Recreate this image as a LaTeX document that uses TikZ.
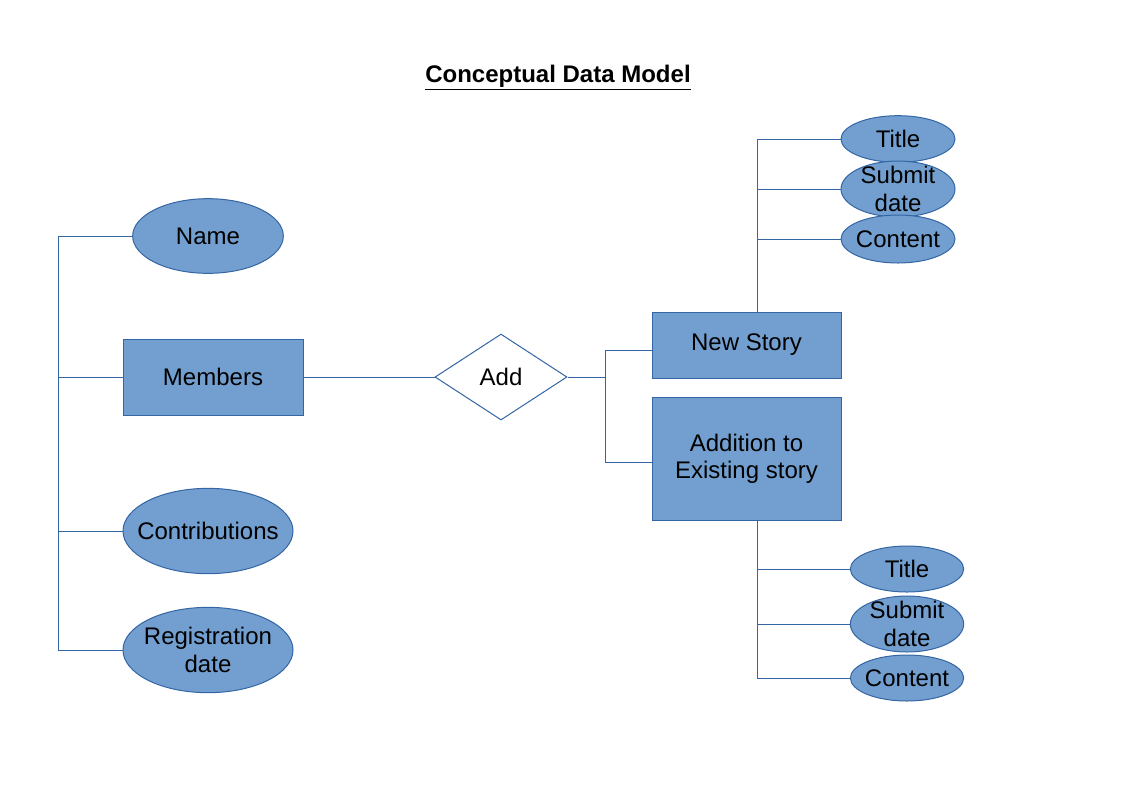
\documentclass[tikz,border=0pt]{standalone}
\usepackage{fontspec}
\setmainfont{Liberation Sans}
\usepackage{xcolor}
\usepackage{tikz}
\usetikzlibrary{shapes.geometric, positioning}
\definecolor{ermfill}{HTML}{729FCF}
\definecolor{ermline}{HTML}{3465A4}
\newcommand{\ermfont}{\fontsize{18}{20.5}\selectfont}
\tikzstyle{entity} = [rectangle, draw=ermline, fill=ermfill, line width=0.75pt, align=center, font=\ermfont, inner sep=0pt]
\tikzstyle{attrib} = [ellipse, draw=ermline, fill=ermfill, line width=0.75pt, align=center, font=\ermfont, inner xsep=-9pt, inner ysep=-6pt]
\tikzstyle{relation} = [diamond, draw=ermline, fill=white, line width=0.75pt, font=\ermfont, inner sep=0pt, aspect=1.5]
\tikzstyle{link} = [draw=ermline, line width=0.75pt]

\begin{document}
\begin{tikzpicture}[x=0.75pt, y=-0.75pt]
        \useasboundingbox (0,0) rectangle (1123,794);

        % Title
        \node (title) [font=\ermfont\bfseries] at (558,78) {\underline{Conceptual Data Model}};

        % Members and its attributes
        \node (members) [entity, minimum width=135pt, minimum height=57pt] at (213,377) {Members};
        \node (name) [attrib, minimum width=113pt, minimum height=56pt] at (208,236) {Name};
        \node (contrib) [attrib, minimum width=127.5pt, minimum height=64pt] at (208,531) {Contributions};
        \node (regdate) [attrib, minimum width=127.5pt, minimum height=64pt] at (208,650) {Registration\\date};

        % Relationship
        \node (add) [relation, minimum width=99pt, minimum height=64.5pt] at (501,377) {Add};

        % Stories
        \node (newstory) [entity, minimum width=141.75pt, minimum height=49.5pt] at (746.5,345) {New Story};
        \node (addition) [entity, minimum width=141.75pt, minimum height=92.25pt] at (746.5,458.5) {Addition to\\Existing story};

        % Attributes of New Story
        \node (ntitle) [attrib, minimum width=85.5pt, minimum height=35pt] at (898,139) {Title};
        \node (nsubmit) [attrib, minimum width=85.5pt, minimum height=42pt] at (898,189) {Submit\\date};
        \node (ncontent) [attrib, minimum width=85.5pt, minimum height=36pt] at (898,239) {Content};

        % Attributes of Addition to Existing story
        \node (atitle) [attrib, minimum width=85pt, minimum height=34.5pt] at (907,569) {Title};
        \node (asubmit) [attrib, minimum width=85pt, minimum height=42pt] at (907,624) {Submit\\date};
        \node (acontent) [attrib, minimum width=85pt, minimum height=34.5pt] at (907,678) {Content};

        % Bus points
        \coordinate (lbus) at (58,377);
        \coordinate (mbus) at (605,377);
        \coordinate (tbus) at ([xshift=8pt]newstory.north);
        \coordinate (bbus) at ([xshift=8pt]addition.south);

        % Connectors
        \draw [link] (name.west) -- (name.west -| lbus) |- (regdate.west);
        \draw [link] (members.west) -- (lbus);
        \draw [link] (contrib.west) -- (contrib.west -| lbus);
        \draw [link] (members.east) -- (add.west);
        \draw [link] (add.east) -- (mbus);
        \draw [link] ([yshift=-4pt]newstory.west) -| (mbus) |- ([yshift=-3pt]addition.west);
        \draw [link] (tbus) |- (ntitle.west);
        \draw [link] (nsubmit.west) -- (nsubmit.west -| tbus);
        \draw [link] (ncontent.west) -- (ncontent.west -| tbus);
        \draw [link] (bbus) |- (acontent.west);
        \draw [link] (atitle.west) -- (atitle.west -| bbus);
        \draw [link] (asubmit.west) -- (asubmit.west -| bbus);
    \end{tikzpicture}
\end{document}
